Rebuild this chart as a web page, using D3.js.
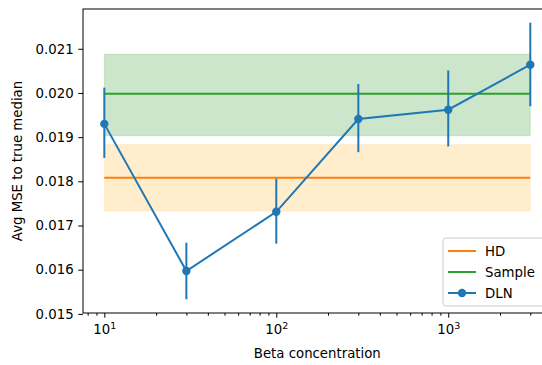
<!DOCTYPE html>
<html><head><meta charset="utf-8">
<script src="https://cdn.jsdelivr.net/npm/d3@7"></script>
<style>
body{margin:0;background:#fff;}
svg{display:block;font-family:"DejaVu Sans",sans-serif;}
</style></head>
<body><svg id="c" width="542" height="365"></svg>
<script>
const concentrations = [10, 30, 100, 300, 1000, 3000];
const dlnMean = [0.01930, 0.01597, 0.01731, 0.01941, 0.01962, 0.02064];
const dlnLow  = [0.01853, 0.01533, 0.01659, 0.01866, 0.01879, 0.01970];
const dlnHigh = [0.02012, 0.01661, 0.01806, 0.02020, 0.02051, 0.02159];
const hdValue = 0.01808, hdLow = 0.01733, hdHigh = 0.01883;
const sampleValue = 0.01998, sampleLow = 0.01903, sampleHigh = 0.02088;
const yTicks = [0.015, 0.016, 0.017, 0.018, 0.019, 0.020, 0.021];
const xTicks = [10, 100, 1000];
const legendLabels = ["HD", "Sample", "DLN"];

const colors = {hd:"#ff7f0e", sample:"#2ca02c", dln:"#1f77b4", hdBand:"#ffa500", sampleBand:"#008000"};
const svg = d3.select("#c");
const L = 83, R = 551.6, T = 9, B = 313;
const x = d3.scaleLog().domain([Math.pow(10,0.876), Math.pow(10,3.601)]).range([L, R]);
const y = d3.scaleLinear().domain([0.01502, 0.0219]).range([B, T]);
const fs = "13.3px";

const x0 = concentrations[0], x1 = concentrations[concentrations.length-1];
// bands
[[hdLow,hdHigh,colors.hdBand],[sampleLow,sampleHigh,colors.sampleBand]].forEach(([lo,hi,c])=>{
  svg.append("rect").attr("x", x(x0)).attr("y", y(hi)).attr("width", x(x1)-x(x0)).attr("height", y(lo)-y(hi))
    .attr("fill", c).attr("fill-opacity", 0.2).attr("stroke", c).attr("stroke-opacity", 0.12).attr("stroke-width", 1);
});
// lines
[[hdValue,colors.hd],[sampleValue,colors.sample]].forEach(([v,c])=>{
  svg.append("line").attr("x1", x(x0)).attr("x2", x(x1)).attr("y1", y(v)).attr("y2", y(v))
    .attr("stroke", c).attr("stroke-width", 2);
});
// DLN error bars
svg.append("g").selectAll("line").data(concentrations).join("line")
  .attr("x1", d=>x(d)).attr("x2", d=>x(d))
  .attr("y1", (d,i)=>y(dlnLow[i])).attr("y2", (d,i)=>y(dlnHigh[i]))
  .attr("stroke", colors.dln).attr("stroke-width", 2);
svg.append("path").datum(concentrations)
  .attr("d", d3.line().x(d=>x(d)).y((d,i)=>y(dlnMean[i])))
  .attr("fill","none").attr("stroke", colors.dln).attr("stroke-width", 2);
svg.append("g").selectAll("circle").data(concentrations).join("circle")
  .attr("cx", d=>x(d)).attr("cy", (d,i)=>y(dlnMean[i])).attr("r", 4.2).attr("fill", colors.dln);

// axes
const yAxis = d3.axisLeft(y).tickValues(yTicks).tickFormat(d3.format(".3f")).tickSize(4.7).tickPadding(4.7);
const gy = svg.append("g").attr("transform", `translate(${L},0)`).call(yAxis);
const minor = [];
for (let e = 0; e <= 3; e++) for (let m = 1; m <= 9; m++) {
  const v = m*Math.pow(10,e);
  if (v >= x.domain()[0] && v <= x.domain()[1] && m !== 1) minor.push(v);
}
const gxm = svg.append("g").attr("transform", `translate(0,${B})`)
  .call(d3.axisBottom(x).tickValues(minor).tickSize(2.7).tickFormat(""));
const gx = svg.append("g").attr("transform", `translate(0,${B})`)
  .call(d3.axisBottom(x).tickValues(xTicks).tickSize(4.7).tickPadding(4.7).tickFormat(""));
gx.selectAll(".tick").append("text").attr("fill","#000").attr("y", 21).attr("text-anchor","middle")
  .each(function(d){
    const t = d3.select(this);
    t.append("tspan").text("10");
    t.append("tspan").attr("dy", -5).attr("font-size", "9.5px").text(Math.round(Math.log10(d)));
  });
[gy,gx,gxm].forEach(g=>{
  g.select(".domain").remove();
  g.selectAll("line").attr("stroke","#000").attr("stroke-width",1);
  g.selectAll("text").attr("font-size", fs).attr("font-family","DejaVu Sans").attr("fill","#000");
});
// spines
svg.append("rect").attr("x", L).attr("y", T).attr("width", R-L).attr("height", B-T)
  .attr("fill","none").attr("stroke","#000").attr("stroke-width",1);

// labels
svg.append("text").attr("x", (L+R)/2).attr("y", 358).attr("text-anchor","middle").attr("font-size", fs).text("Beta concentration");
svg.append("text").attr("transform", `translate(22,${(T+B)/2}) rotate(-90)`).attr("text-anchor","middle").attr("font-size", fs).text("Avg MSE to true median");

// legend
const lg = svg.append("g").attr("transform","translate(443,238)");
lg.append("rect").attr("width", 102).attr("height", 68).attr("rx", 3)
  .attr("fill","#fff").attr("fill-opacity",0.8).attr("stroke","#ccc").attr("stroke-width",1);
const lc = [colors.hd, colors.sample, colors.dln];
legendLabels.forEach((lab,i)=>{
  const yy = 13 + i*21;
  lg.append("line").attr("x1", 5).attr("x2", 33).attr("y1", yy).attr("y2", yy).attr("stroke", lc[i]).attr("stroke-width", 2);
  if (i === 2) lg.append("circle").attr("cx", 19).attr("cy", yy).attr("r", 4.2).attr("fill", lc[i]);
  lg.append("text").attr("x", 42).attr("y", yy+4.8).attr("font-size", fs).text(lab);
});
</script></body></html>
